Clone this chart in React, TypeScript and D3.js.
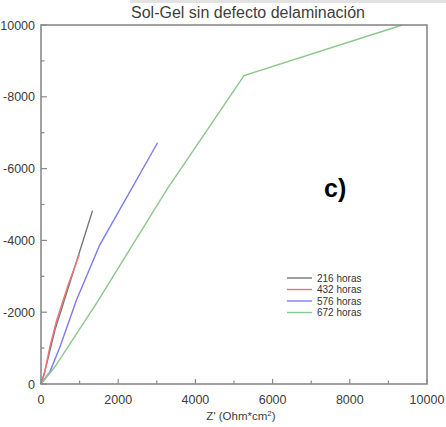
import React from "react";
import * as d3 from "d3";

// Nyquist data, Z' vs -Z'' (Ohm*cm²)
const series = ["216 horas", "432 horas", "576 horas", "672 horas"];
const colors = ["#767676", "#f07474", "#7a7af2", "#8ac88a"];

const h216: [number, number][] = [[0, 0], [100, 350], [360, 1500], [700, 2660], [1335, 4830]];
const h432: [number, number][] = [[0, 0], [80, 250], [230, 1040], [410, 1790], [700, 2750], [990, 3600]];
const h576: [number, number][] = [[0, 0], [230, 340], [490, 1030], [920, 2340], [1520, 3870], [3020, 6720]];
const h672: [number, number][] = [[0, 0], [360, 480], [1440, 2250], [3250, 5400], [5260, 8590], [9360, 10000]];
const allSeries = [h216, h432, h576, h672];

const xTicks = [0, 2000, 4000, 6000, 8000, 10000];
const yTicks = [0, 2000, 4000, 6000, 8000, 10000];
const minorTicks = [1000, 3000, 5000, 7000, 9000];

const title = "Sol-Gel sin defecto delaminación";

export default function App() {
  const W = 446;
  const H = 427;
  const x = d3.scaleLinear().domain([0, 10000]).range([41, 427]);
  const y = d3.scaleLinear().domain([0, 10000]).range([384, 25]);
  const line = d3
    .line<[number, number]>()
    .x((d) => x(d[0]))
    .y((d) => y(d[1]));
  const yFmt = (v: number) => (v === 0 || v === 10000 ? String(v) : "-" + v);
  const font = "'Liberation Sans', Arial, sans-serif";
  const axisCol = "#8a8a8a";
  const textCol = "#3c3c3c";

  return (
    <svg
      width={W}
      height={H}
      style={{ position: "absolute", left: 0, top: 0, background: "#fff" }}
      fontFamily={font}
    >
      <rect x={0} y={0} width={W} height={H} fill="#fff" />
      <rect x={130} y={0} width={316} height={3} fill="#e2e2e2" />
      <text x={248} y={18} textAnchor="middle" fontSize={16} fill="#404040">
        {title}
      </text>

      {allSeries.map((s, i) => (
        <path key={i} d={line(s) || ""} fill="none" stroke={colors[i]} strokeWidth={1.4} />
      ))}

      {/* frame */}
      <rect
        x={x(0)}
        y={y(10000)}
        width={x(10000) - x(0)}
        height={y(0) - y(10000)}
        fill="none"
        stroke={axisCol}
        strokeWidth={1.6}
      />

      {/* x ticks */}
      {xTicks.map((t) => (
        <g key={"xt" + t}>
          <line x1={x(t)} x2={x(t)} y1={y(0)} y2={y(0) - 5} stroke={axisCol} strokeWidth={1.2} />
          <text x={x(t)} y={404} textAnchor="middle" fontSize={12.5} fill={textCol}>
            {t}
          </text>
        </g>
      ))}
      {minorTicks.map((t) => (
        <line key={"xm" + t} x1={x(t)} x2={x(t)} y1={y(0)} y2={y(0) - 3.5} stroke={axisCol} strokeWidth={1.2} />
      ))}

      {/* y ticks */}
      {yTicks.map((t) => (
        <g key={"yt" + t}>
          <line x1={x(0)} x2={x(0) + 6} y1={y(t)} y2={y(t)} stroke={axisCol} strokeWidth={1.2} />
          <text x={35} y={y(t) + 4.5} textAnchor="end" fontSize={12.5} fill={textCol}>
            {yFmt(t)}
          </text>
        </g>
      ))}
      {minorTicks.map((t) => (
        <line key={"ym" + t} x1={x(0)} x2={x(0) + 3.5} y1={y(t)} y2={y(t)} stroke={axisCol} strokeWidth={1.2} />
      ))}

      <text x={241} y={420} textAnchor="middle" fontSize={11.5} fill={textCol}>
        Z' (Ohm*cm
        <tspan fontSize={8} dy={-4}>2</tspan>
        <tspan dy={4}>)</tspan>
      </text>

      {/* legend */}
      {series.map((name, i) => (
        <g key={name}>
          <line x1={287} x2={312} y1={278 + i * 11.5} y2={278 + i * 11.5} stroke={colors[i]} strokeWidth={1.4} />
          <text x={317} y={281.5 + i * 11.5} fontSize={10} fill="#333">
            {name}
          </text>
        </g>
      ))}

      <text x={324} y={197} fontSize={25} fontWeight="bold" fill="#000">
        c)
      </text>
    </svg>
  );
}
